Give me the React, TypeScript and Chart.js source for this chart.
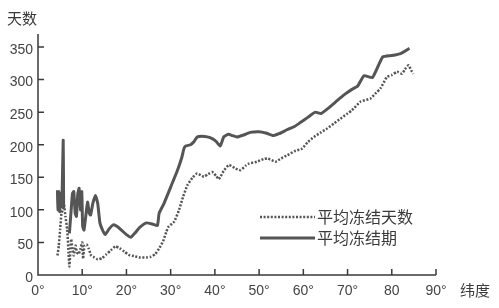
import React, { useEffect, useRef } from "react";
import { Chart, registerables } from "chart.js";

Chart.register(...registerables);

const seriesNames = ["平均冻结天数", "平均冻结期"];
const axisTitles = { x: "纬度", y: "天数" };

const periodLat = [4.4, 4.5, 4.7, 4.9, 5.1, 5.3, 5.5, 5.7, 5.8, 6.4, 7.1, 7.5, 7.8, 8.1, 8.4, 8.7, 9.0, 9.3, 9.6, 9.9, 10.1, 10.4, 10.8, 11.2, 11.6, 11.9, 12.4, 13.0, 13.5, 14.0, 14.6, 15.2, 16.0, 17.0, 18.0, 19.0, 20.0, 21.0, 22.0, 23.0, 24.5, 26.0, 27.0, 27.4, 28.5, 30.0, 31.5, 32.5, 33.0, 33.4, 34.5, 35.3, 36.0, 37.0, 38.3, 39.5, 40.3, 41.2, 42.0, 43.0, 44.0, 45.0, 46.5, 48.0, 50.0, 51.5, 53.2, 54.5, 56.3, 58.0, 59.5, 61.0, 62.7, 64.0, 66.0, 67.7, 69.5, 71.0, 72.3, 73.7, 75.6, 77.0, 78.0, 80.0, 82.0, 84.0];
const periodDays = [130, 100, 128, 97, 125, 105, 140, 207, 103, null, 64, 100, 125, 128, 95, 90, 125, 133, 100, 128, 75, 69, 90, 112, 95, 92, 110, 122, 110, 80, 69, 62, 70, 77, 74, 68, 62, 58, 65, 73, 80, 78, 76, 95, 110, 135, 160, 180, 194, 198, 200, 205, 212, 213, 212, 209, 205, 198, 212, 216, 214, 212, 215, 219, 220, 218, 214, 217, 223, 228, 235, 242, 250, 248, 258, 268, 278, 285, 290, 306, 303, 322, 335, 337, 340, 348];

const daysLat = [4.4, 4.7, 5.0, 5.3, 5.6, 5.9, 6.2, 6.6, 6.9, 7.1, 7.3, 7.5, 7.8, 8.1, 8.5, 8.8, 9.2, 9.6, 10.0, 10.2, 10.5, 11.0, 11.5, 12.0, 12.5, 13.5, 14.5, 15.5, 16.5, 17.5, 18.5, 19.5, 20.5, 21.7, 23.0, 24.5, 25.5, 26.5, 27.5, 28.3, 29.0, 29.5, 30.8, 31.9, 32.8, 33.8, 35.0, 36.0, 37.5, 38.5, 39.4, 40.3, 40.9, 42.0, 43.2, 44.5, 45.8, 47.0, 47.7, 49.5, 51.0, 51.9, 53.7, 55.0, 56.4, 58.0, 59.7, 61.0, 62.4, 64.0, 65.4, 67.0, 68.4, 70.0, 71.0, 72.9, 75.2, 76.5, 77.4, 78.9, 80.0, 81.2, 82.3, 83.0, 83.8, 84.4, 84.9];
const daysValues = [30, 45, 70, 95, 100, 107, 90, 70, 35, 13, 35, 55, 40, 30, 45, 35, 32, 40, 50, 25, 45, 47, 40, 30, 28, 24, 26, 32, 38, 44, 41, 36, 31, 29, 27, 27, 28, 32, 42, 52, 66, 74, 82, 100, 120, 138, 150, 156, 151, 155, 158, 152, 147, 160, 169, 164, 161, 168, 171, 174, 178, 179, 174, 179, 184, 190, 194, 204, 212, 219, 225, 233, 240, 248, 253, 266, 271, 280, 286, 304, 307, 312, 309, 316, 322, 314, 309];

const xTickValues = [0, 10, 20, 30, 40, 50, 60, 70, 80, 90];
const xTickLabels = ["0°", "10°", "20°", "30°", "40°", "50°", "60°", "70°", "80", "90°"];
const yTickValues = [0, 50, 100, 150, 200, 250, 300, 350];

const INK = "#3a3a3a";
const LINE = "#555555";
const CJK = "'Noto Sans CJK SC', sans-serif";

const decorPlugin = {
  id: "decor",
  afterDraw(chart: any) {
    const ctx = chart.ctx;
    const xs = chart.scales.x;
    const ys = chart.scales.y;
    const left = xs.getPixelForValue(0);
    const right = xs.getPixelForValue(90);
    const bottom = ys.getPixelForValue(0);
    const top = ys.getPixelForValue(370);
    ctx.save();
    ctx.strokeStyle = INK;
    ctx.lineWidth = 1.5;
    ctx.beginPath();
    ctx.moveTo(left, top);
    ctx.lineTo(left, bottom);
    ctx.lineTo(right, bottom);
    ctx.stroke();
    ctx.lineWidth = 1.5;
    ctx.beginPath();
    yTickValues.forEach((v) => {
      if (v === 0) return;
      const p = ys.getPixelForValue(v);
      ctx.moveTo(left, p);
      ctx.lineTo(left + 6, p);
    });
    xTickValues.forEach((v) => {
      if (v === 0) return;
      const p = xs.getPixelForValue(v);
      ctx.moveTo(p, bottom);
      ctx.lineTo(p, bottom - 6);
    });
    ctx.stroke();

    // axis titles
    ctx.fillStyle = INK;
    ctx.font = "15px " + CJK;
    ctx.textBaseline = "middle";
    ctx.textAlign = "left";
    ctx.fillText(axisTitles.y, 7, 18);
    ctx.fillText(axisTitles.x, 460, 290);

    // legend
    const ds = chart.data.datasets;
    const rows = [217, 238];
    ds.forEach((d: any, i: number) => {
      const y = rows[i];
      ctx.strokeStyle = d.borderColor;
      ctx.lineWidth = d.borderWidth;
      ctx.setLineDash(d.borderDash || []);
      ctx.beginPath();
      ctx.moveTo(260, y);
      ctx.lineTo(315, y);
      ctx.stroke();
      ctx.setLineDash([]);
      ctx.fillStyle = INK;
      ctx.font = "16px " + CJK;
      ctx.fillText(d.label, 317, y);
    });
    ctx.restore();
  },
};

export default function App() {
  const ref = useRef<HTMLCanvasElement | null>(null);
  useEffect(() => {
    if (!ref.current) return;
    const chart = new Chart(ref.current, {
      type: "line",
      data: {
        datasets: [
          {
            label: seriesNames[0],
            data: daysLat.map((x, i) => ({ x, y: daysValues[i] })),
            borderColor: LINE,
            borderWidth: 2.5,
            borderDash: [2, 1.6],
            pointRadius: 0,
            tension: 0.15,
            spanGaps: false,
          },
          {
            label: seriesNames[1],
            data: periodLat.map((x, i) => ({ x, y: periodDays[i] })),
            borderColor: LINE,
            borderWidth: 3,
            pointRadius: 0,
            tension: 0.15,
            spanGaps: false,
          },
        ],
      },
      options: {
        responsive: false,
        animation: false,
        layout: { padding: { top: 34, right: 63, left: 0, bottom: 0 } },
        plugins: { legend: { display: false }, tooltip: { enabled: false } },
        scales: {
          x: {
            type: "linear",
            min: 0,
            max: 90,
            afterFit: (s: any) => {
              s.height = 33;
            },
            afterBuildTicks: (s: any) => {
              s.ticks = xTickValues.map((v) => ({ value: v }));
            },
            grid: { display: false, drawTicks: false },
            border: { display: false },
            ticks: {
              padding: 8,
              maxRotation: 0,
              autoSkip: false,
              color: "#444",
              font: { family: "'Liberation Sans', sans-serif", size: 14 },
              callback: (v: any) => xTickLabels[xTickValues.indexOf(Number(v))] ?? "",
            },
          },
          y: {
            type: "linear",
            min: 0,
            max: 370,
            afterFit: (s: any) => {
              s.width = 38;
            },
            afterBuildTicks: (s: any) => {
              s.ticks = yTickValues.map((v) => ({ value: v }));
            },
            grid: { display: false, drawTicks: false },
            border: { display: false },
            ticks: {
              padding: 5,
              labelOffset: 3,
              color: "#444",
              font: { family: "'Liberation Sans', sans-serif", size: 14 },
            },
          },
        },
      },
      plugins: [decorPlugin],
    });
    return () => chart.destroy();
  }, []);
  return (
    <div style={{ position: "absolute", left: 0, top: 0, width: 499, height: 308, background: "#fff" }}>
      <canvas ref={ref} width={499} height={308} style={{ display: "block" }} />
    </div>
  );
}
